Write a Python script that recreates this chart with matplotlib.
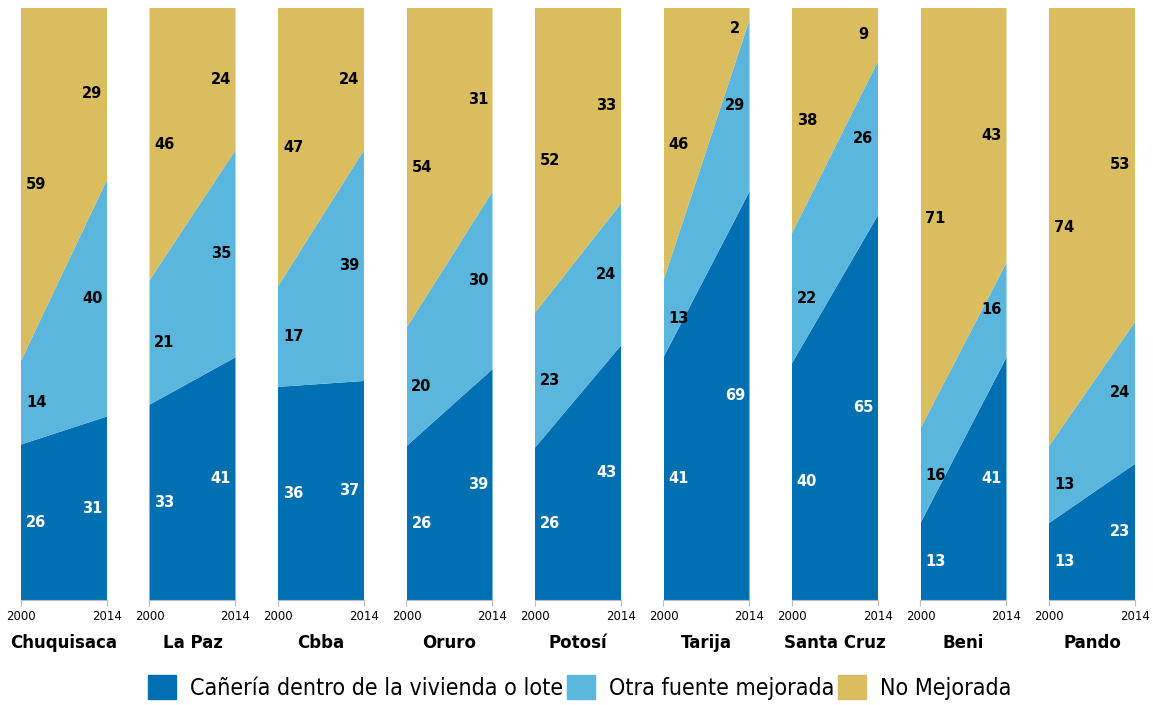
import numpy as np
import matplotlib.pyplot as plt
from matplotlib.patches import Patch
from matplotlib import font_manager

deptos = ['Chuquisaca', 'La Paz', 'Cbba', 'Oruro', 'Potosí',
          'Tarija', 'Santa Cruz', 'Beni', 'Pando']
anios = [2000, 2014]

# porcentaje de hogares por fuente de agua (2000, 2014)
caneria = [(26, 31), (33, 41), (36, 37), (26, 39), (26, 43),
           (41, 69), (40, 65), (13, 41), (13, 23)]
otra = [(14, 40), (21, 35), (17, 39), (20, 30), (23, 24),
        (13, 29), (22, 26), (16, 16), (13, 24)]
no_mej = [(59, 29), (46, 24), (47, 24), (54, 31), (52, 33),
          (46, 2), (38, 9), (71, 43), (74, 53)]

series = ['Cañería dentro de la vivienda o lote', 'Otra fuente mejorada', 'No Mejorada']
colores = ['#0070b2', '#5bb6dd', '#d9bd5e']
col_txt = ['white', 'black', 'black']

fig = plt.figure(figsize=(11.53, 7.05), dpi=100)
W, H = 1153, 705
x0, paso, ancho = 21, 128.5, 86
abajo, alto = 600, 592

for i, d in enumerate(deptos):
    ax = fig.add_axes([(x0 + i * paso) / W, (H - abajo) / H, ancho / W, alto / H])
    Y = np.array([caneria[i], otra[i], no_mej[i]], dtype=float)
    Yp = Y / Y.sum(axis=0) * 100  # apilado al 100%
    ax.stackplot(anios, Yp, colors=colores, linewidth=0)
    ax.set_xlim(2000, 2014)
    ax.set_ylim(0, 100)
    base = np.cumsum(Yp, axis=0) - Yp / 2
    base = np.minimum(base, 96.5)  # que no toque el borde de arriba
    for k in range(3):
        ax.text(2002.45, base[k, 0], str(int(Y[k, 0])), ha='center', va='center',
                fontsize=10.5, fontweight='bold', color=col_txt[k])
        ax.text(2011.6, base[k, 1], str(int(Y[k, 1])), ha='center', va='center',
                fontsize=10.5, fontweight='bold', color=col_txt[k])
    ax.set_xticks(anios)
    ax.set_xticklabels(['2000', '2014'], fontsize=8.5)
    ax.set_yticks([])
    for s in ['top', 'left', 'right']:
        ax.spines[s].set_visible(False)
    ax.spines['bottom'].set_color('#bbbbbb')
    ax.tick_params(axis='x', length=4, color='#bbbbbb', pad=3)
    ax.set_xlabel(d, fontsize=12, fontweight='bold', labelpad=8)

fp = font_manager.FontProperties(family=['DejaVu Sans'], stretch='condensed', size=16.7)
handles = [Patch(color=c) for c in colores]
fig.legend(handles, series, loc='lower center', bbox_to_anchor=(0.503, -0.022), ncol=3,
           frameon=False, prop=fp,
           handlelength=1.2, handleheight=1.2, handletextpad=0.62, columnspacing=0.15)

fig.savefig('out.png', dpi=100)
